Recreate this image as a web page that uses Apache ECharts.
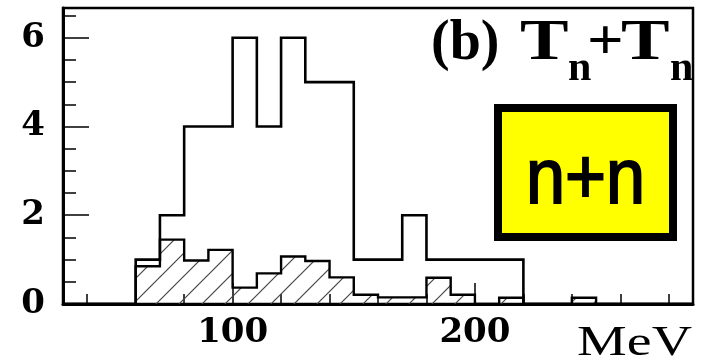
<!DOCTYPE html>
<html>
<head>
<meta charset="utf-8">
<script src="https://cdn.jsdelivr.net/npm/echarts@6/dist/echarts.min.js"></script>
<style>
  html, body { margin: 0; padding: 0; background: #fff; }
  #chart { width: 702px; height: 363px; }
</style>
</head>
<body>
<div id="chart"></div>
<script>
// Histogram bins: lower edges (MeV), all 10 MeV wide
const binLow = [30, 40, 50, 60, 70, 80, 90, 100, 110, 120, 130, 140, 150,
                160, 170, 180, 190, 200, 210, 220, 230, 240, 250, 260, 270, 280];
const binWidth = 10;
// Counts of n+n pairs per bin (open histogram)
const pairCounts = [0, 0, 0, 1, 2, 4, 4, 6, 4, 6, 5, 5, 1,
                    1, 2, 1, 1, 1, 1, 0, 0, 0, 0, 0, 0, 0];
// Normalised mixed-event background per bin (hatched histogram)
const mixedCounts = [0, 0, 0, 0.85, 1.45, 0.98, 1.22, 0.37, 0.69, 1.07, 0.97, 0.6, 0.21,
                     0.15, 0.15, 0.59, 0.21, 0, 0.14, 0, 0, 0.14, 0, 0, 0, 0];
// Axis ticks and labels
const xTickMajor = [100, 200];
const xTickMinor = [40, 60, 80, 120, 140, 160, 180, 220, 240, 260, 280];
const yTickMajor = [0, 2, 4, 6];
const yTickMinor = [0.5, 1, 1.5, 2.5, 3, 3.5, 4.5, 5, 5.5, 6.5];
const xRange = [30, 290];
const yRange = [0, 6.67];

// Turn per-bin values into step points: [lowEdge, value] ... closed at the last high edge
function stepPoints(values) {
  const pts = binLow.map((x, i) => [x, values[i]]);
  const last = binLow.length - 1;
  pts.push([binLow[last] + binWidth, values[last]]);
  return pts;
}

// Diagonal "/" hatching tile
function hatchTile(size) {
  const c = document.createElement('canvas');
  c.width = size; c.height = size;
  const g = c.getContext('2d');
  g.strokeStyle = '#444';
  g.lineWidth = 1.2;
  for (const off of [-size, 0, size]) {
    g.beginPath();
    g.moveTo(off - 1, size + 1);
    g.lineTo(off + size + 1, -1);
    g.stroke();
  }
  return c;
}

const serifBold = { fontFamily: 'Liberation Serif', fontWeight: 'bold', fill: '#000' };

const chart = echarts.init(document.getElementById('chart'), null, { renderer: 'canvas' });
chart.setOption({
  animation: false,
  backgroundColor: '#fff',
  grid: {
    left: 63, right: 9, top: 8, bottom: 59,
    show: true, borderColor: '#000', borderWidth: 2.5,
    backgroundColor: 'transparent',
    outerBoundsMode: 'none'
  },
  xAxis: [
    {
      type: 'value', min: xRange[0], max: xRange[1], position: 'bottom',
      axisLine: { show: true, lineStyle: { color: '#000', width: 3 } },
      splitLine: { show: false },
      axisTick: { show: true, inside: true, length: 21, customValues: xTickMajor,
                  lineStyle: { color: '#000', width: 1.5 } },
      axisLabel: { customValues: xTickMajor, color: '#000', fontFamily: 'DejaVu Serif',
                   fontWeight: 'bold', fontSize: 34, margin: 12 }
    },
    {
      type: 'value', min: xRange[0], max: xRange[1], position: 'bottom',
      axisLine: { show: false },
      splitLine: { show: false },
      axisTick: { show: true, inside: true, length: 10, customValues: xTickMinor,
                  lineStyle: { color: '#000', width: 1.5 } },
      axisLabel: { show: false }
    }
  ],
  yAxis: [
    {
      type: 'value', min: yRange[0], max: yRange[1], position: 'left',
      axisLine: { show: true, lineStyle: { color: '#000', width: 3 } },
      splitLine: { show: false },
      axisTick: { show: true, inside: true, length: 26, customValues: yTickMajor,
                  lineStyle: { color: '#000', width: 1.5 } },
      axisLabel: { customValues: yTickMajor, color: '#000', fontFamily: 'DejaVu Serif',
                   fontWeight: 'bold', fontSize: 34, margin: 18 }
    },
    {
      type: 'value', min: yRange[0], max: yRange[1], position: 'left',
      axisLine: { show: false },
      splitLine: { show: false },
      axisTick: { show: true, inside: true, length: 13, customValues: yTickMinor,
                  lineStyle: { color: '#000', width: 1.5 } },
      axisLabel: { show: false }
    }
  ],
  series: [
    {
      name: 'n+n pairs', type: 'line', xAxisIndex: 0, yAxisIndex: 0,
      data: stepPoints(pairCounts), step: 'end', symbol: 'none', silent: true,
      lineStyle: { color: '#000', width: 2.6, join: 'miter' }
    },
    {
      name: 'mixed events', type: 'line', xAxisIndex: 0, yAxisIndex: 0,
      data: stepPoints(mixedCounts), step: 'end', symbol: 'none', silent: true,
      lineStyle: { color: '#000', width: 2.4, join: 'miter' },
      areaStyle: { color: { image: hatchTile(23), repeat: 'repeat' }, opacity: 1 }
    }
  ],
  graphic: [
    // panel label "(b) Tn+Tn"
    { type: 'text', x: 431, y: 45, style: Object.assign({ text: '(b)', fontSize: 56, align: 'left', verticalAlign: 'middle' }, serifBold) },
    { type: 'text', x: 520, y: 45, scaleX: 1.3, style: Object.assign({ text: 'T', fontSize: 56, align: 'left', verticalAlign: 'middle' }, serifBold) },
    { type: 'text', x: 568, y: 69, style: Object.assign({ text: 'n', fontSize: 42, align: 'left', verticalAlign: 'middle' }, serifBold) },
    { type: 'text', x: 587, y: 45, scaleX: 1.15, style: Object.assign({ text: '+', fontSize: 56, align: 'left', verticalAlign: 'middle' }, serifBold) },
    { type: 'text', x: 621, y: 45, scaleX: 1.3, style: Object.assign({ text: 'T', fontSize: 56, align: 'left', verticalAlign: 'middle' }, serifBold) },
    { type: 'text', x: 670, y: 69, style: Object.assign({ text: 'n', fontSize: 42, align: 'left', verticalAlign: 'middle' }, serifBold) },
    // axis unit
    { type: 'text', x: 692, y: 344, scaleX: 1.3,
      style: { text: 'MeV', fontFamily: 'Liberation Serif', fontSize: 43, fill: '#000', align: 'right', verticalAlign: 'middle' } },
    // reaction box
    { type: 'rect', shape: { x: 498, y: 108, width: 175, height: 129 },
      style: { fill: '#ffff00', stroke: '#000', lineWidth: 8 } },
    { type: 'text', x: 585.5, y: 181, scaleX: 0.9, z: 101,
      style: { text: 'n+n', fontFamily: 'Liberation Sans', fontSize: 78, fill: '#000',
               stroke: '#000', lineWidth: 2, align: 'center', verticalAlign: 'middle' } }
  ]
});
</script>
</body>
</html>
